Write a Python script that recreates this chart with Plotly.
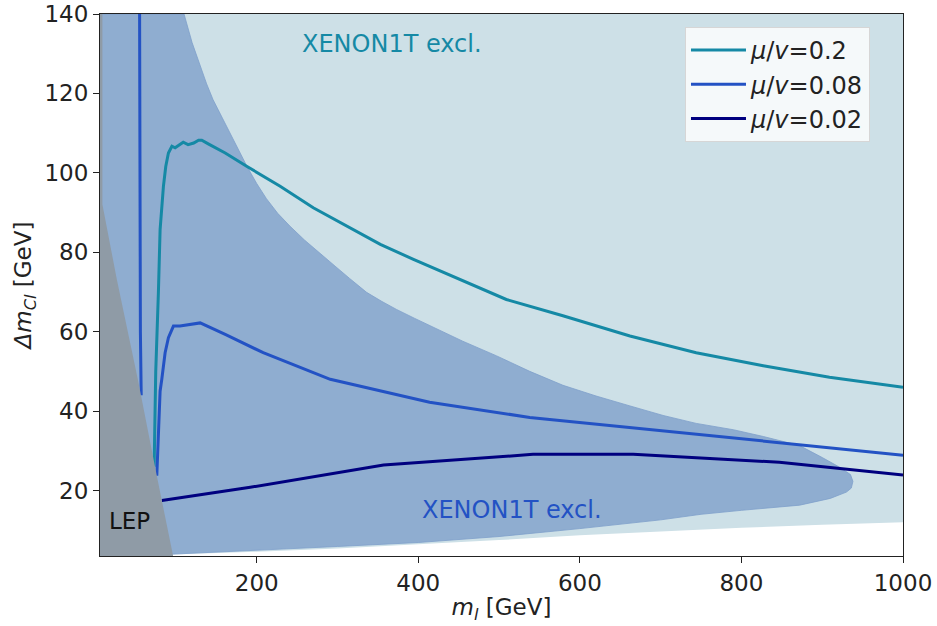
import plotly.graph_objects as go

# ---------------- data ----------------
# XENON1T exclusion (mu/v = 0.2), light region: bounded below by this curve
light_low_x = [1000, 900, 800, 700, 600, 500, 400, 300, 200, 95, 0]
light_low_y = [12.0, 11.4, 10.6, 9.7, 8.7, 7.5, 6.4, 5.4, 4.6, 3.9, 3.0]

# XENON1T exclusion (lower mu/v), dark region outline (upper edge then lower edge)
dark_up_x = [0, 110, 120, 130, 138, 146, 156, 167, 177, 188, 200, 212, 226, 241,
             259, 278, 297, 315, 336, 355, 373, 395, 414, 455, 497, 538, 579, 620,
             662, 703, 744, 790, 827, 872, 900, 922, 935, 938]
dark_up_y = [140, 140, 132.8, 126.8, 122.4, 118.4, 114.3, 110, 105.8, 101.6, 97.3,
             93.5, 89.8, 86.6, 83.1, 79.9, 76.5, 73.4, 69.9, 67.6, 65.6, 63.4, 61.6,
             57.6, 53.9, 50.0, 46.5, 43.8, 41.3, 38.9, 36.9, 35.3, 33.6, 31.3, 28.3,
             25.8, 24.0, 22.3]
dark_low_x = [936, 930, 910, 872, 800, 750, 700, 600, 500, 400, 300, 200, 99, 0]
dark_low_y = [20.6, 19.6, 18.0, 16.3, 15.0, 14.0, 12.6, 10.4, 8.4, 6.9, 5.9, 5.0, 4.0, 3.0]

# LEP exclusion
lep_x = [0, 0, 9, 9, 26.8, 52.8, 76.3, 100, 0]
lep_y = [0, 140, 140, 92, 73.2, 48, 23.7, 0, 0]

# Contours
x_02 = [73, 75, 78.3, 80.4, 84.5, 87.4, 90.7, 95, 99, 105, 109, 115, 122, 128, 132,
        140, 161, 188, 229, 270, 311, 353, 394, 427, 509, 579, 662, 744, 827, 909, 1000]
y_02 = [26, 50, 70, 85.7, 96.6, 101.6, 105, 106.7, 106.3, 107.1, 107.7, 107.1, 107.5,
        108.2, 108.2, 107.3, 105, 101.6, 96.6, 91.2, 86.6, 82, 78.2, 75.3, 68.1, 64,
        58.9, 54.7, 51.4, 48.5, 46]

x_008 = [55, 55.3, 56, 57, None, 76.3, 78.3, 80.4, 82.5, 86.6, 90.7, 96.9, 105, 130,
         161, 208, 291, 414, 538, 662, 786, 909, 1000]
y_008 = [142, 100, 60, 44, None, 23.7, 35.5, 45, 48, 54.7, 58.5, 61.4, 61.4, 62.2,
         59.3, 54.7, 48, 42.2, 38.4, 35.9, 33.4, 30.9, 28.9]

x_002 = [82.5, 192, 357, 542, 666, 847, 1000]
y_002 = [17.5, 20.8, 26.4, 29.1, 29.1, 27.1, 23.9]

labels = ["<i>μ</i>/<i>v</i>=0.2", "<i>μ</i>/<i>v</i>=0.08", "<i>μ</i>/<i>v</i>=0.02"]
colors = ["#1589a5", "#2352c4", "#00007f"]

# ---------------- figure ----------------
fig = go.Figure()

fig.add_trace(go.Scatter(
    x=[0, 1000] + light_low_x, y=[140, 140] + light_low_y,
    fill="toself", fillcolor="#cde0e7", line=dict(width=0),
    mode="lines", showlegend=False, hoverinfo="skip"))

fig.add_trace(go.Scatter(
    x=dark_up_x + dark_low_x, y=dark_up_y + dark_low_y,
    fill="toself", fillcolor="#8fadd0", line=dict(width=0.8, color="#7f9fca"),
    mode="lines", showlegend=False, hoverinfo="skip"))

for xs, ys, lab, col in zip([x_02, x_008, x_002], [y_02, y_008, y_002], labels, colors):
    fig.add_trace(go.Scatter(x=xs, y=ys, mode="lines", name=lab,
                             line=dict(color=col, width=3), connectgaps=False))

fig.add_trace(go.Scatter(
    x=lep_x, y=lep_y, fill="toself", fillcolor="#8f9ba6",
    line=dict(width=0), mode="lines", showlegend=False, hoverinfo="skip"))

fig.add_annotation(x=367, y=132.5, text="XENON1T excl.", showarrow=False,
                   font=dict(size=24, color="#1589a5"))
fig.add_annotation(x=516, y=15.2, text="XENON1T excl.", showarrow=False,
                   font=dict(size=24, color="#2352c4"))
fig.add_annotation(x=43, y=12.2, text="LEP", showarrow=False,
                   font=dict(size=23, color="#111111"))

axis_common = dict(showgrid=False, zeroline=False, showline=True, linecolor="#222",
                   linewidth=1.2, mirror=True, ticks="outside", ticklen=6,
                   tickwidth=1.3, tickcolor="#222", automargin=False,
                   tickfont=dict(size=23, color="#222", family="DejaVu Sans"))

fig.update_xaxes(range=[6, 1000], tickvals=[200, 400, 600, 800, 1000],
                 title=dict(text="<i>m<sub>l</sub></i> [GeV]", standoff=4,
                            font=dict(size=23, color="#222", family="DejaVu Sans")),
                 **axis_common)
fig.update_yaxes(range=[3.5, 140], tickvals=[20, 40, 60, 80, 100, 120, 140],
                 title=dict(text="<i>Δm<sub>Cl</sub></i> [GeV]", standoff=6,
                            font=dict(size=23, color="#222", family="DejaVu Sans")),
                 **axis_common)

fig.update_layout(
    width=937, height=626,
    margin=dict(l=100, r=34, t=14, b=70),
    plot_bgcolor="white", paper_bgcolor="white",
    font=dict(family="DejaVu Sans"),
    legend=dict(x=0.7285, y=0.976, xanchor="left", yanchor="top",
                bgcolor="rgba(255,255,255,0.8)", bordercolor="#d6d6d6", borderwidth=1,
                font=dict(size=24, color="#222", family="DejaVu Sans"),
                itemwidth=55, tracegroupgap=0),
)

fig.write_html("out.html")
